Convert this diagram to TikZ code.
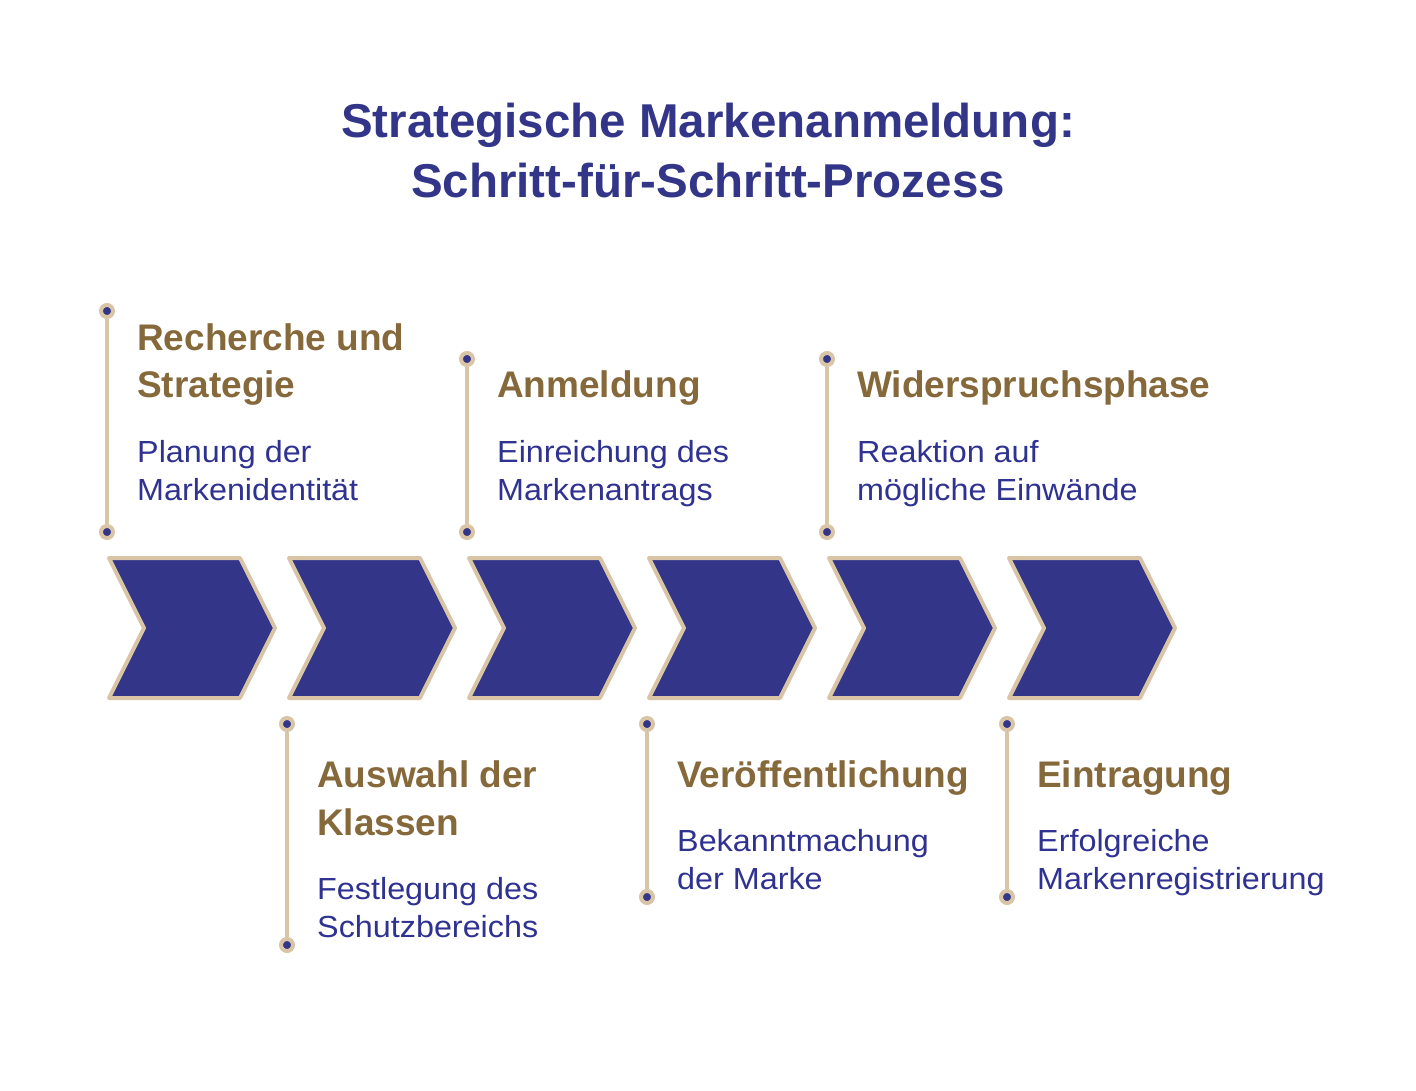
\documentclass[tikz,border=0pt]{standalone}
\usepackage{fontspec}
\setmainfont{Liberation Sans}
\newfontfamily\descfont[FakeStretch=1.06]{Liberation Sans}
\definecolor{navy}{HTML}{333688}
\definecolor{brownh}{HTML}{86693B}
\definecolor{descc}{HTML}{2F3290}
\definecolor{tan}{HTML}{D9C5A6}
\tikzset{
  chev/.style={fill=navy,draw=tan,line width=4pt,line join=round},
  dotn/.style={circle,fill=navy,draw=tan,line width=4pt,minimum size=12pt,inner sep=0pt},
  conn/.style={draw=tan,line width=4pt},
  ttl/.style={font=\fontsize{47.5}{60}\selectfont\bfseries,text=navy,inner sep=0pt,anchor=base},
  head/.style={font=\fontsize{37}{47}\selectfont\bfseries,text=brownh,inner sep=0pt,anchor=base west},
  desc/.style={font=\descfont\fontsize{30.5}{38}\selectfont,text=descc,inner sep=0pt,anchor=base west}
}
\begin{document}
\begin{tikzpicture}[x=1pt,y=-1pt]
\path[use as bounding box,fill=white] (0,0) rectangle (1416,1090);
% title
\node[ttl] (t1) at (708,137) {Strategische Markenanmeldung:};
\node[ttl] (t2) at (708,197) {Schritt-für-Schritt-Prozess};
% chevrons
\foreach \i in {0,...,5}{
  \pgfmathsetmacro{\xo}{109+180*\i}
  \draw[chev] (\xo,558) -- (\xo+131,558) -- (\xo+166,628) -- (\xo+131,698) -- (\xo,698) -- (\xo+35,628) -- cycle;
}
% connectors with dots
\node[dotn] (d1a) at (107,311) {};
\node[dotn] (d1b) at (107,532) {};
\node[dotn] (d3a) at (467,359) {};
\node[dotn] (d3b) at (467,532) {};
\node[dotn] (d5a) at (827,359) {};
\node[dotn] (d5b) at (827,532) {};
\node[dotn] (d2a) at (287,724) {};
\node[dotn] (d2b) at (287,945) {};
\node[dotn] (d4a) at (647,724) {};
\node[dotn] (d4b) at (647,897) {};
\node[dotn] (d6a) at (1007,724) {};
\node[dotn] (d6b) at (1007,897) {};
\foreach \p in {1,2,3,4,5,6}{
  \draw[conn] (d\p a.south) -- (d\p b.north);
}
% step 1
\node[head] (h1a) at (137,350) {Recherche und};
\node[head] (h1b) at (137,397) {Strategie};
\node[desc] (s1a) at (137,462) {Planung der};
\node[desc] (s1b) at (137,500) {Markenidentität};
% step 3
\node[head] (h3) at (497,397) {Anmeldung};
\node[desc] (s3a) at (497,462) {Einreichung des};
\node[desc] (s3b) at (497,500) {Markenantrags};
% step 5
\node[head] (h5) at (857,397) {Widerspruchsphase};
\node[desc] (s5a) at (857,462) {Reaktion auf};
\node[desc] (s5b) at (857,500) {mögliche Einwände};
% step 2
\node[head] (h2a) at (317,787) {Auswahl der};
\node[head] (h2b) at (317,835) {Klassen};
\node[desc] (s2a) at (317,899) {Festlegung des};
\node[desc] (s2b) at (317,937) {Schutzbereichs};
% step 4
\node[head] (h4) at (677,787) {Veröffentlichung};
\node[desc] (s4a) at (677,851) {Bekanntmachung};
\node[desc] (s4b) at (677,889) {der Marke};
% step 6
\node[head] (h6) at (1037,787) {Eintragung};
\node[desc] (s6a) at (1037,851) {Erfolgreiche};
\node[desc] (s6b) at (1037,889) {Markenregistrierung};
\end{tikzpicture}
\end{document}
